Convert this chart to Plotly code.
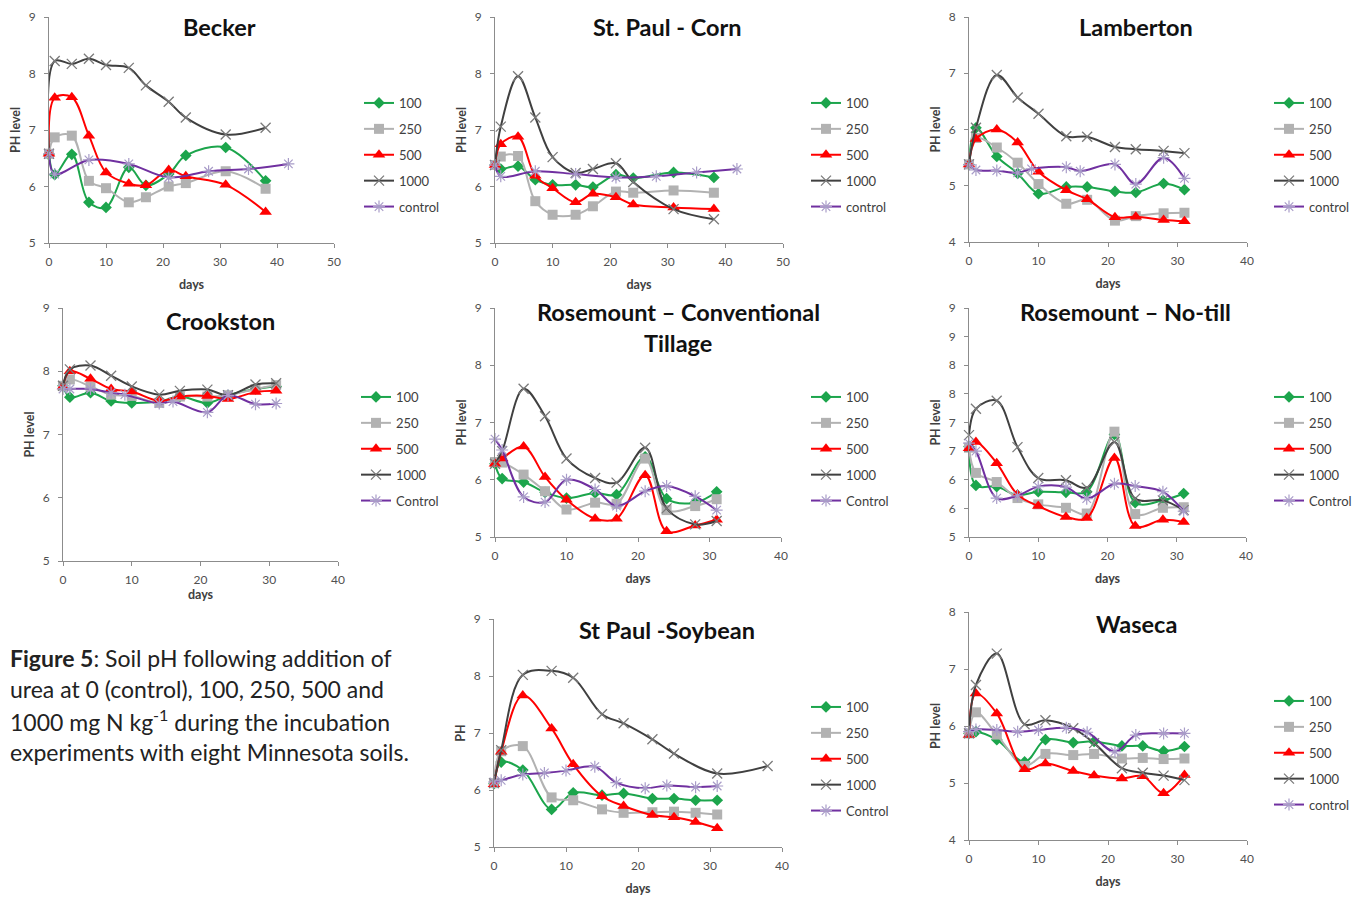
import plotly.graph_objects as go

W, H = 1367, 897
OFF = 8  # page body margin in the browser; layout positions are compensated for it

# ---------------- DATA ----------------
series_names = ["100", "250", "500", "1000"]

becker_days = [0, 1, 4, 7, 10, 14, 17, 21, 24, 31, 38]
becker_100 = [6.56, 6.21, 6.57, 5.72, 5.63, 6.34, 6.02, 6.22, 6.55, 6.69, 6.10]
becker_250 = [6.58, 6.87, 6.90, 6.10, 5.97, 5.72, 5.81, 6.00, 6.06, 6.27, 5.96]
becker_500 = [6.58, 7.57, 7.58, 6.90, 6.25, 6.05, 6.02, 6.29, 6.18, 6.03, 5.55]
becker_1000 = [6.58, 8.22, 8.17, 8.26, 8.15, 8.10, 7.79, 7.50, 7.22, 6.92, 7.04]
becker_ctrl_days = [0, 1, 7, 14, 21, 28, 35, 42]
becker_ctrl = [6.58, 6.22, 6.47, 6.40, 6.16, 6.27, 6.31, 6.40]

corn_days = [0, 1, 4, 7, 10, 14, 17, 21, 24, 31, 38]
corn_100 = [6.38, 6.31, 6.36, 6.12, 6.03, 6.03, 5.99, 6.21, 6.15, 6.25, 6.16]
corn_250 = [6.38, 6.53, 6.54, 5.74, 5.50, 5.50, 5.65, 5.91, 5.89, 5.93, 5.89]
corn_500 = [6.38, 6.75, 6.88, 6.19, 5.97, 5.72, 5.87, 5.81, 5.68, 5.63, 5.60]
corn_1000 = [6.38, 7.06, 7.95, 7.22, 6.52, 6.24, 6.31, 6.41, 6.08, 5.60, 5.42]
corn_ctrl_days = [0, 1, 7, 14, 21, 28, 35, 42]
corn_ctrl = [6.38, 6.18, 6.27, 6.22, 6.16, 6.18, 6.25, 6.31]

lamb_days = [0, 1, 4, 7, 10, 14, 17, 21, 24, 28, 31]
lamb_100 = [5.38, 6.03, 5.52, 5.22, 4.86, 4.98, 4.98, 4.90, 4.88, 5.04, 4.93]
lamb_250 = [5.38, 5.85, 5.68, 5.41, 5.03, 4.68, 4.75, 4.38, 4.46, 4.51, 4.52]
lamb_500 = [5.38, 5.83, 6.00, 5.77, 5.25, 4.92, 4.76, 4.44, 4.45, 4.39, 4.37]
lamb_1000 = [5.38, 6.03, 6.97, 6.57, 6.28, 5.88, 5.87, 5.69, 5.65, 5.62, 5.58]
lamb_ctrl_days = [0, 1, 4, 7, 9, 14, 16, 21, 24, 28, 31]
lamb_ctrl = [5.37, 5.28, 5.27, 5.23, 5.30, 5.33, 5.26, 5.38, 5.03, 5.50, 5.13]

crook_days = [0, 1, 4, 7, 10, 14, 17, 21, 24, 28, 31]
crook_100 = [7.77, 7.59, 7.66, 7.53, 7.50, 7.52, 7.60, 7.50, 7.62, 7.72, 7.76]
crook_250 = [7.77, 7.87, 7.76, 7.63, 7.61, 7.50, 7.60, 7.60, 7.62, 7.72, 7.78]
crook_500 = [7.76, 8.00, 7.88, 7.72, 7.68, 7.53, 7.60, 7.61, 7.56, 7.67, 7.69]
crook_1000 = [7.77, 8.03, 8.09, 7.93, 7.76, 7.63, 7.69, 7.71, 7.62, 7.79, 7.81]
crook_ctrl_days = [0, 1, 4, 7, 9, 14, 16, 21, 24, 28, 31]
crook_ctrl = [7.72, 7.72, 7.72, 7.66, 7.63, 7.49, 7.52, 7.35, 7.62, 7.48, 7.49]

rct_days = [0, 1, 4, 7, 10, 14, 17, 21, 24, 28, 31]
rct_100 = [6.28, 6.02, 5.96, 5.78, 5.68, 5.77, 5.74, 6.40, 5.67, 5.60, 5.79]
rct_250 = [6.31, 6.30, 6.09, 5.80, 5.48, 5.60, 5.58, 6.37, 5.47, 5.54, 5.66]
rct_500 = [6.28, 6.37, 6.58, 6.05, 5.65, 5.32, 5.32, 6.08, 5.10, 5.20, 5.30]
rct_1000 = [6.28, 6.50, 7.59, 7.11, 6.37, 6.03, 5.95, 6.56, 5.50, 5.22, 5.28]
rct_ctrl_days = [0, 1, 4, 7, 10, 14, 17, 21, 24, 28, 31]
rct_ctrl = [6.71, 6.52, 5.70, 5.61, 6.00, 5.83, 5.54, 5.80, 5.89, 5.71, 5.47]

rnt_days = [0, 1, 4, 7, 10, 14, 17, 21, 24, 28, 31]
rnt_100 = [6.58, 5.90, 5.88, 5.73, 5.79, 5.78, 5.79, 6.79, 5.60, 5.64, 5.76]
rnt_250 = [6.56, 6.12, 5.96, 5.68, 5.57, 5.51, 5.41, 6.84, 5.40, 5.51, 5.52]
rnt_500 = [6.55, 6.66, 6.29, 5.74, 5.54, 5.35, 5.33, 6.38, 5.19, 5.30, 5.26]
rnt_1000 = [6.78, 7.24, 7.38, 6.57, 6.03, 5.99, 5.86, 6.66, 5.67, 5.64, 5.47]
rnt_ctrl_days = [0, 1, 4, 7, 10, 14, 17, 21, 24, 28, 31]
rnt_ctrl = [6.64, 6.50, 5.68, 5.72, 5.88, 5.87, 5.67, 5.93, 5.89, 5.79, 5.45]
rnt_ytickvals = [5.0, 5.5, 6.0, 6.5, 7.0, 7.5, 8.0, 8.5, 9.0]
rnt_yticktext = ["5", "6", "6", "7", "7", "8", "8", "9", "9"]

soy_days = [0, 1, 4, 8, 11, 15, 18, 22, 25, 28, 31]
soy_100 = [6.11, 6.49, 6.35, 5.66, 5.95, 5.91, 5.94, 5.85, 5.85, 5.82, 5.82]
soy_250 = [6.12, 6.68, 6.77, 5.87, 5.82, 5.66, 5.60, 5.61, 5.62, 5.60, 5.57]
soy_500 = [6.10, 6.67, 7.66, 7.08, 6.45, 5.89, 5.72, 5.56, 5.52, 5.44, 5.33]
soy_1000_days = [0, 1, 4, 8, 11, 15, 18, 22, 25, 31, 38]
soy_1000 = [6.12, 6.70, 8.02, 8.09, 7.97, 7.33, 7.17, 6.89, 6.64, 6.29, 6.42]
soy_ctrl_days = [0, 1, 4, 7, 10, 14, 17, 21, 24, 28, 31]
soy_ctrl = [6.14, 6.17, 6.27, 6.30, 6.34, 6.41, 6.13, 6.03, 6.08, 6.05, 6.07]

was_days = [0, 1, 4, 8, 11, 15, 18, 22, 25, 28, 31]
was_100 = [5.87, 5.90, 5.76, 5.37, 5.76, 5.71, 5.73, 5.65, 5.65, 5.56, 5.64]
was_250 = [5.87, 6.24, 5.85, 5.30, 5.51, 5.49, 5.51, 5.43, 5.44, 5.42, 5.43]
was_500 = [5.84, 6.57, 6.22, 5.24, 5.34, 5.21, 5.13, 5.08, 5.12, 4.82, 5.14]
was_1000 = [5.87, 6.72, 7.27, 6.03, 6.10, 5.96, 5.70, 5.26, 5.18, 5.13, 5.05]
was_ctrl_days = [0, 1, 4, 7, 10, 14, 17, 21, 24, 28, 31]
was_ctrl = [5.90, 5.94, 5.93, 5.90, 5.93, 5.97, 5.89, 5.55, 5.84, 5.87, 5.87]

caption_lines = [
    "<b>Figure 5</b>: Soil pH following addition of",
    "urea at 0 (control), 100, 250, 500 and",
    "1000 mg N kg<sup>-1</sup> during the incubation",
    "experiments with eight Minnesota soils.",
]

# ---------------- STYLE ----------------
FONT = "Lato"
TXT = "#404040"
AX = "#8c8c8c"
styles = {
    "100": dict(color="#1ca54c", symbol="diamond", size=9, mline="#1ca54c"),
    "250": dict(color="#b2b2b2", symbol="square", size=10, mline="#b2b2b2"),
    "500": dict(color="#ff0000", symbol="triangle-up", size=11, mline="#ff0000"),
    "1000": dict(color="#404040", symbol="x-thin", size=10, mline="#7a7a7a"),
    "ctrl": dict(color="#7030a0", symbol="asterisk", size=10, mline="#a89cc8"),
}


def px_x(v):
    return (v - OFF) / W


def px_y(v):
    return 1 - (v - OFF) / H


# panel geometry in pixels: (x0, x1, y_top, y_bottom)
panels = [
    dict(title=["Becker"], tpos=(219, 27), box=(49, 334, 17, 243), xr=50, yr=(5, 9),
         ytitle="PH level", leg=(359, 88), ctrl="control",
         days=becker_days, vals=[becker_100, becker_250, becker_500, becker_1000],
         cdays=becker_ctrl_days, cvals=becker_ctrl),
    dict(title=["St. Paul - Corn"], tpos=(667, 27), box=(495, 783, 17, 243), xr=50, yr=(5, 9),
         ytitle="PH level", leg=(806, 88), ctrl="control",
         days=corn_days, vals=[corn_100, corn_250, corn_500, corn_1000],
         cdays=corn_ctrl_days, cvals=corn_ctrl),
    dict(title=["Lamberton"], tpos=(1136, 27), box=(969, 1247, 17, 242), xr=40, yr=(4, 8),
         ytitle="PH level", leg=(1269, 88), ctrl="control",
         days=lamb_days, vals=[lamb_100, lamb_250, lamb_500, lamb_1000],
         cdays=lamb_ctrl_days, cvals=lamb_ctrl),
    dict(title=["Crookston"], tpos=(220, 321), box=(63, 338, 308, 561), xr=40, yr=(5, 9),
         ytitle="PH level", leg=(356, 382), ctrl="Control",
         days=crook_days, vals=[crook_100, crook_250, crook_500, crook_1000],
         cdays=crook_ctrl_days, cvals=crook_ctrl),
    dict(title=["Rosemount – Conventional", "Tillage"], tpos=(678, 312), box=(495, 781, 308, 537),
         xr=40, yr=(5, 9), ytitle="PH level", leg=(806, 382), ctrl="Control",
         days=rct_days, vals=[rct_100, rct_250, rct_500, rct_1000],
         cdays=rct_ctrl_days, cvals=rct_ctrl),
    dict(title=["Rosemount – No-till"], tpos=(1125, 312), box=(969, 1246, 308, 537), xr=40,
         yr=(5, 9), ytitle="PH level", leg=(1269, 382), ctrl="Control",
         days=rnt_days, vals=[rnt_100, rnt_250, rnt_500, rnt_1000],
         cdays=rnt_ctrl_days, cvals=rnt_ctrl, ytv=rnt_ytickvals, ytt=rnt_yticktext),
    dict(title=["St Paul -Soybean"], tpos=(667, 630), box=(494, 782, 619, 847), xr=40, yr=(5, 9),
         ytitle="PH", leg=(806, 692), ctrl="Control",
         days=soy_days, vals=[soy_100, soy_250, soy_500, soy_1000],
         days1000=soy_1000_days, cdays=soy_ctrl_days, cvals=soy_ctrl),
    dict(title=["Waseca"], tpos=(1136, 624), box=(969, 1247, 612, 840), xr=40, yr=(4, 8),
         ytitle="PH level", leg=(1269, 686), ctrl="control",
         days=was_days, vals=[was_100, was_250, was_500, was_1000],
         cdays=was_ctrl_days, cvals=was_ctrl),
]

fig = go.Figure()
layout = dict(
    template="none",
    width=W, height=H, margin=dict(l=0, r=0, t=0, b=0, pad=0, autoexpand=False),
    paper_bgcolor="white", plot_bgcolor="white",
    font=dict(family=FONT, color=TXT, size=12),
    annotations=[],
)

for i, p in enumerate(panels, start=1):
    x0, x1, yt, yb = p["box"]
    xa = "xaxis" if i == 1 else f"xaxis{i}"
    ya = "yaxis" if i == 1 else f"yaxis{i}"
    xref = "x" if i == 1 else f"x{i}"
    yref = "y" if i == 1 else f"y{i}"
    leg = "legend" if i == 1 else f"legend{i}"
    axis_common = dict(showline=True, linecolor=AX, linewidth=1, ticks="outside",
                       ticklen=4, tickcolor=AX, showgrid=False, zeroline=False,
                       automargin=False, ticklabeloverflow="allow",
                       tickfont=dict(size=12, color="#505050", family=FONT))
    layout[xa] = dict(domain=[px_x(x0), px_x(x1)], anchor=yref, range=[0, p["xr"]],
                      tickvals=list(range(0, p["xr"] + 1, 10)), ticklabelstandoff=4,
                      title=dict(text="<b>days</b>", font=dict(size=12.5, color=TXT),
                                 standoff=11 if i != 4 else 1),
                      **axis_common)
    ydict = dict(domain=[px_y(yb), px_y(yt)], anchor=xref, range=list(p["yr"]),
                 ticklabelstandoff=6,
                 title=dict(text=f"<b>{p['ytitle']}</b>", font=dict(size=12.5, color=TXT),
                            standoff=5),
                 **axis_common)
    if "ytv" in p:
        ydict["tickvals"] = p["ytv"]
        ydict["ticktext"] = p["ytt"]
    else:
        ydict["dtick"] = 1
    layout[ya] = ydict
    lx, ly = p["leg"]
    layout[leg] = dict(x=px_x(lx), y=px_y(ly), xanchor="left", yanchor="top",
                       bgcolor="rgba(0,0,0,0)", font=dict(size=13, color=TXT, family=FONT),
                       itemwidth=30, traceorder="grouped", tracegroupgap=6)

    for k, name in enumerate(series_names):
        st = styles[name]
        d = p["days"]
        if name == "1000" and "days1000" in p:
            d = p["days1000"]
        fig.add_trace(go.Scatter(
            x=d, y=p["vals"][k], name=name, mode="lines+markers",
            xaxis=xref, yaxis=yref, legend=leg, legendgroup=f"p{i}s{k}",
            line=dict(color=st["color"], width=2, shape="spline", smoothing=1),
            marker=dict(symbol=st["symbol"], size=st["size"], color=st["color"],
                        line=dict(color=st["mline"], width=1.3 if name == "1000" else 0)),
            cliponaxis=False, hoverinfo="x+y+name"))
    st = styles["ctrl"]
    fig.add_trace(go.Scatter(
        x=p["cdays"], y=p["cvals"], name=p["ctrl"], mode="lines+markers",
        xaxis=xref, yaxis=yref, legend=leg, legendgroup=f"p{i}c",
        line=dict(color=st["color"], width=2, shape="spline", smoothing=1),
        marker=dict(symbol=st["symbol"], size=st["size"], color=st["mline"],
                    line=dict(color=st["mline"], width=1.2)),
        cliponaxis=False, hoverinfo="x+y+name"))

    tx, ty = p["tpos"]
    for j, line in enumerate(p["title"]):
        layout["annotations"].append(dict(
            text=f"<b>{line}</b>", x=px_x(tx), y=px_y(ty + j * 31), xref="paper", yref="paper",
            xanchor="center", yanchor="middle", showarrow=False,
            font=dict(size=23.5, color="#111111", family=FONT)))

for j, line in enumerate(caption_lines):
    layout["annotations"].append(dict(
        text=line, x=0, y=px_y(658 + j * 31.3), xref="paper", yref="paper",
        xanchor="left", yanchor="middle", showarrow=False,
        font=dict(size=23, color="#222222", family=FONT)))

fig.update_layout(**layout)
fig.write_html("out.html")
